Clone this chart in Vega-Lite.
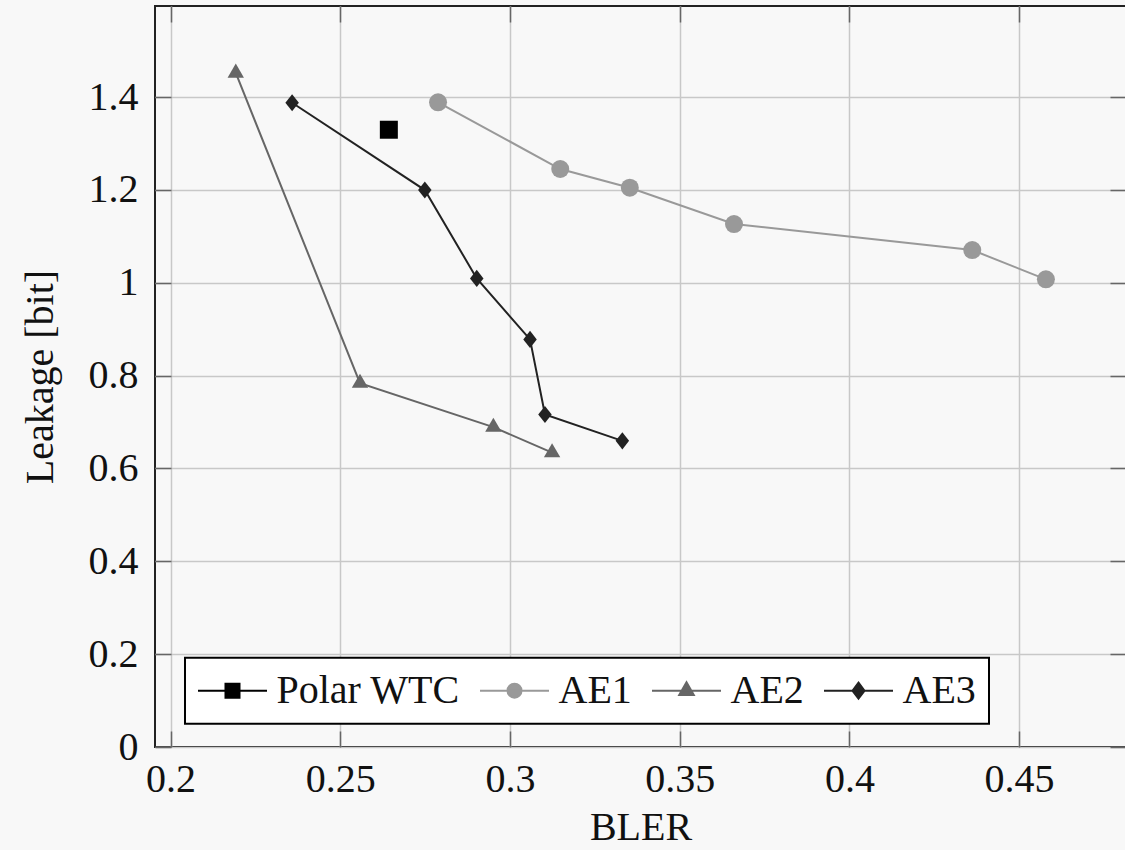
{
  "$schema": "https://vega.github.io/schema/vega-lite/v6.json",
  "width": 971,
  "height": 741,
  "autosize": {"type": "none"},
  "padding": {"left": 155, "top": 6, "right": 0, "bottom": 103},
  "background": "#f8f8f8",
  "config": {
    "view": {"stroke": "#222222", "strokeWidth": 2, "fill": "#f8f8f8"},
    "font": "Liberation Serif",
    "axis": {
      "labelFont": "Liberation Serif",
      "titleFont": "Liberation Serif",
      "labelFontSize": 40,
      "titleFontSize": 40,
      "labelColor": "#111111",
      "titleColor": "#111111",
      "titleFontWeight": "normal",
      "domain": false,
      "tickColor": "#666666",
      "tickWidth": 1.5,
      "tickSize": -16,
      "gridColor": "#c8c8c8",
      "gridWidth": 1.5
    },
    "legend": {
      "orient": "none",
      "legendX": 30,
      "legendY": 651.7,
      "direction": "horizontal",
      "fillColor": "#ffffff",
      "strokeColor": "#000000",
      "strokeWidth": 2,
      "padding": 13,
      "cornerRadius": 0,
      "labelFont": "Liberation Serif",
      "labelFontSize": 40,
      "labelColor": "#111111",
      "labelLimit": 0,
      "symbolSize": 900,
      "symbolStrokeWidth": 2,
      "symbolOffset": 14.5,
      "labelOffset": 24,
      "columnPadding": 16,
      "symbolOpacity": 1
    }
  },
  "data": {
    "values": [
      {"series": "Polar WTC", "bler": 0.2643, "leakage": 1.3295},
      {"series": "AE1", "bler": 0.2788, "leakage": 1.3886},
      {"series": "AE1", "bler": 0.3148, "leakage": 1.2449},
      {"series": "AE1", "bler": 0.3353, "leakage": 1.2046},
      {"series": "AE1", "bler": 0.366, "leakage": 1.1264},
      {"series": "AE1", "bler": 0.4362, "leakage": 1.0703},
      {"series": "AE1", "bler": 0.4579, "leakage": 1.0072},
      {"series": "AE2", "bler": 0.2192, "leakage": 1.4517},
      {"series": "AE2", "bler": 0.2558, "leakage": 0.7837},
      {"series": "AE2", "bler": 0.2951, "leakage": 0.689},
      {"series": "AE2", "bler": 0.3124, "leakage": 0.634},
      {"series": "AE3", "bler": 0.2358, "leakage": 1.3877},
      {"series": "AE3", "bler": 0.2749, "leakage": 1.1996},
      {"series": "AE3", "bler": 0.2902, "leakage": 1.0093},
      {"series": "AE3", "bler": 0.3059, "leakage": 0.8779},
      {"series": "AE3", "bler": 0.3103, "leakage": 0.7163},
      {"series": "AE3", "bler": 0.3331, "leakage": 0.6594}
    ]
  },
  "layer": [
    {
      "mark": {"type": "line", "strokeWidth": 2},
      "encoding": {
        "x": {
          "field": "bler", "type": "quantitative",
          "scale": {"domain": [0.1954, 0.4815], "nice": false, "zero": false},
          "axis": {"orient": "bottom", "values": [0.2, 0.25, 0.3, 0.35, 0.4, 0.45], "format": "~g", "title": "BLER", "labelPadding": 28, "titlePadding": 8, "grid": true}
        },
        "y": {
          "field": "leakage", "type": "quantitative",
          "scale": {"domain": [0, 1.596], "nice": false, "zero": false},
          "axis": {"orient": "left", "values": [0, 0.2, 0.4, 0.6, 0.8, 1, 1.2, 1.4], "format": "~g", "title": "Leakage [bit]", "labelPadding": 33, "titlePadding": 28, "grid": true}
        },
        "color": {
          "field": "series", "type": "nominal",
          "scale": {"domain": ["Polar WTC", "AE1", "AE2", "AE3"], "range": ["#000000", "#999999", "#666666", "#222222"]},
          "legend": null
        }
      }
    },
    {
      "mark": {"type": "point", "filled": true, "opacity": 1, "size": 324},
      "encoding": {
        "x": {
          "field": "bler", "type": "quantitative",
          "axis": {"orient": "top", "values": [0.2, 0.25, 0.3, 0.35, 0.4, 0.45], "labels": false, "title": null, "grid": false}
        },
        "y": {
          "field": "leakage", "type": "quantitative",
          "axis": {"orient": "right", "values": [0, 0.2, 0.4, 0.6, 0.8, 1, 1.2, 1.4], "labels": false, "title": null, "grid": false}
        },
        "color": {"field": "series", "type": "nominal", "legend": null},
        "shape": {
          "field": "series", "type": "nominal",
          "scale": {"domain": ["Polar WTC", "AE1", "AE2", "AE3"], "range": ["square", "circle", "M0,-1.05L0.91,0.525L-0.91,0.525Z", "M0,-0.95L0.75,0L0,0.95L-0.75,0Z"]},
          "legend": null
        }
      }
    },
    {
      "mark": {"type": "point", "filled": true, "opacity": 0, "strokeWidth": 2},
      "encoding": {
        "x": {"field": "bler", "type": "quantitative", "axis": null},
        "y": {"field": "leakage", "type": "quantitative", "axis": null},
        "shape": {
          "field": "series", "type": "nominal",
          "scale": {"domain": ["Polar WTC", "AE1", "AE2", "AE3"], "range": [
            "M-2.3,0H2.3M-0.467,-0.467H0.467V0.467H-0.467Z",
            "M-2.3,0H2.3M-0.467,0A0.467,0.467 0 1,0 0.467,0A0.467,0.467 0 1,0 -0.467,0Z",
            "M-2.3,0H2.3M0,-0.56L0.485,0.28L-0.485,0.28Z",
            "M-2.3,0H2.3M0,-0.533L0.4,0L0,0.533L-0.4,0Z"
          ]},
          "legend": {"title": null}
        },
        "fill": {
          "field": "series", "type": "nominal",
          "scale": {"domain": ["Polar WTC", "AE1", "AE2", "AE3"], "range": ["#000000", "#999999", "#666666", "#222222"]},
          "legend": {"title": null}
        },
        "stroke": {
          "field": "series", "type": "nominal",
          "scale": {"domain": ["Polar WTC", "AE1", "AE2", "AE3"], "range": ["#000000", "#999999", "#666666", "#222222"]},
          "legend": {"title": null}
        }
      }
    }
  ],
  "resolve": {
    "axis": {"x": "independent", "y": "independent"},
    "scale": {"shape": "independent", "fill": "independent", "stroke": "independent"},
    "legend": {"shape": "independent", "fill": "independent", "stroke": "independent"}
  }
}
